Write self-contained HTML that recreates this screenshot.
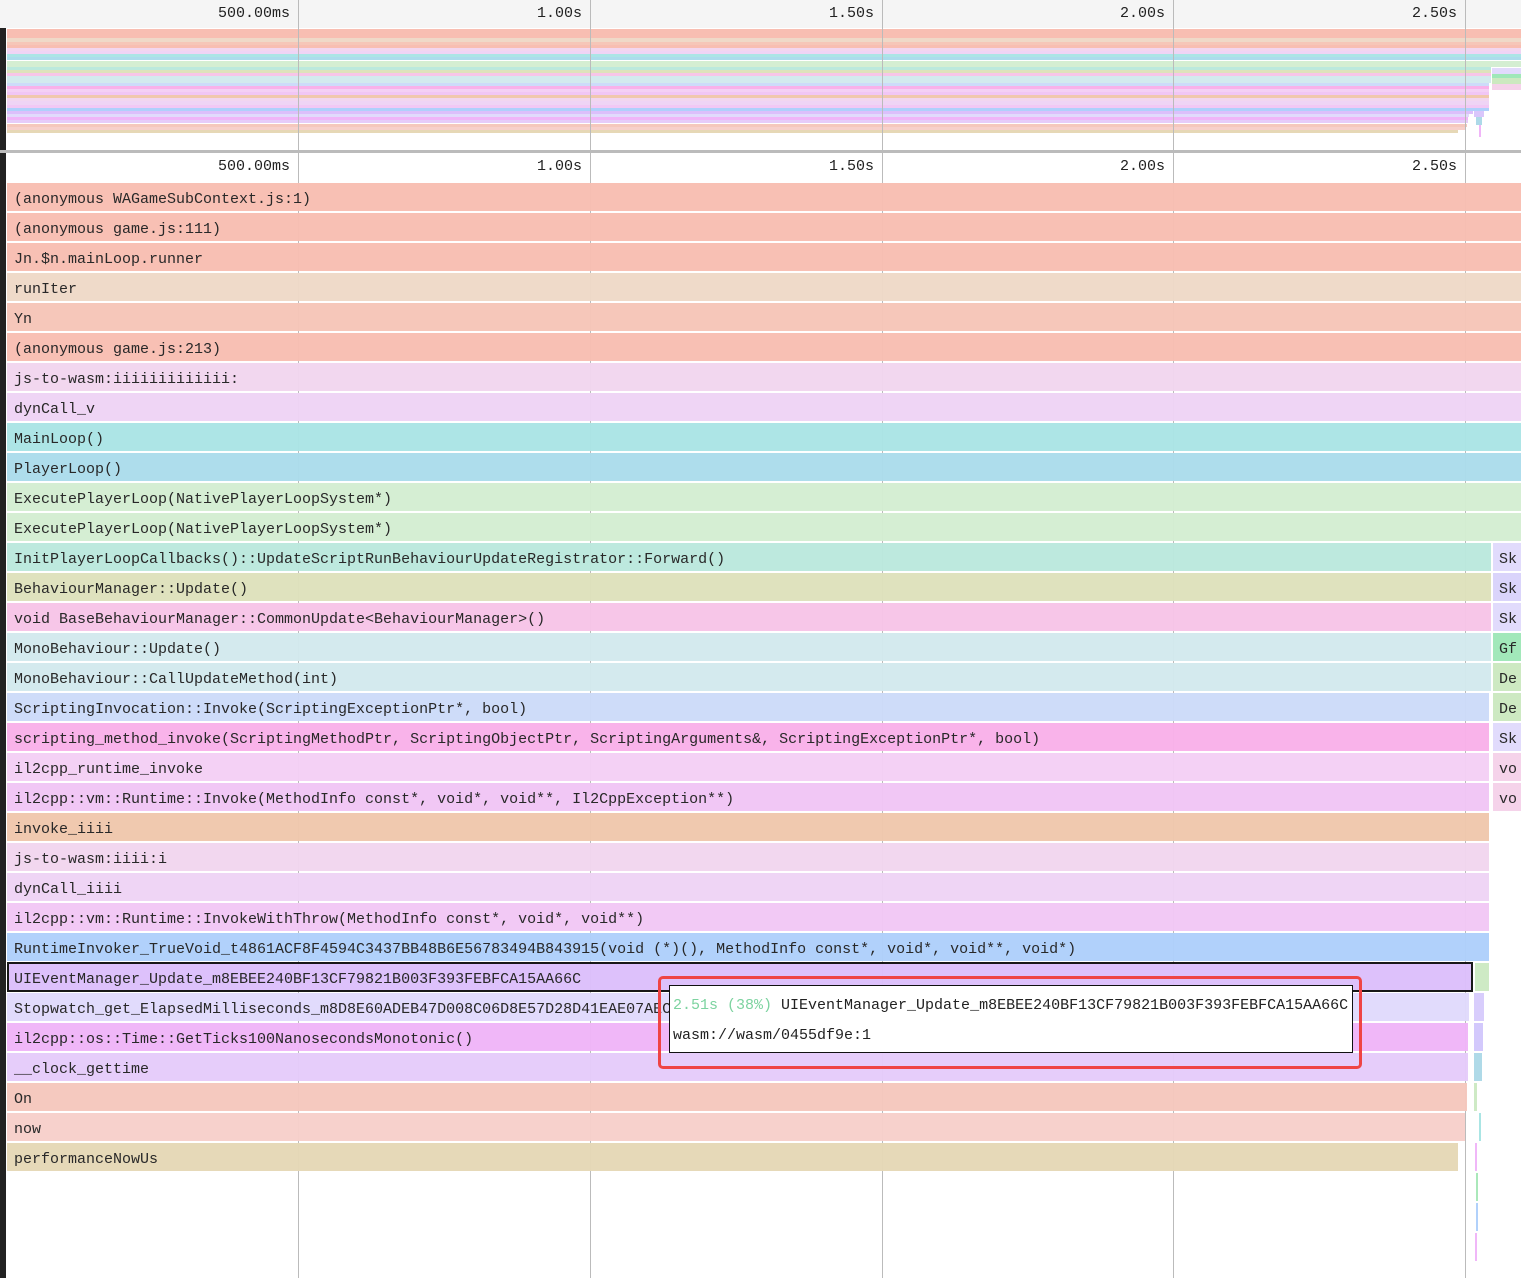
<!DOCTYPE html>
<html><head><meta charset="utf-8"><style>
*{margin:0;padding:0;box-sizing:border-box}
body{width:1521px;height:1278px;position:relative;overflow:hidden;background:#fff;font-family:"Liberation Mono",monospace;font-size:15px;color:#222}
div{position:absolute}
.r{height:28px;line-height:33px;padding-left:7px;white-space:nowrap;overflow:hidden}
.o{height:3.15px}
.g{width:1px;top:0;height:1278px;background:#bbb}
.lab{width:120px;text-align:right}
</style></head><body>
<div style="left:0;top:0;width:1521px;height:28px;background:#f5f5f5"></div>
<div style="left:0;top:28px;width:6px;height:1250px;background:#222"></div>
<div style="left:0;top:150px;width:1521px;height:3px;background:#bbb"></div>

<!-- overview -->
<div style="left:7px;top:29px;width:1514px;height:104px">
<div class="o" style="top:0;width:1514px;height:9.45px;background:#f8beb2"></div>
<div class="o" style="top:9.45px;width:1514px;background:#efd9c8"></div>
<div class="o" style="top:12.6px;width:1514px;background:#f6c6b8"></div>
<div class="o" style="top:15.75px;width:1514px;background:#f8beb2"></div>
<div class="o" style="top:18.9px;width:1514px;background:#f2d6ef"></div>
<div class="o" style="top:22.05px;width:1514px;background:#efd4f5"></div>
<div class="o" style="top:25.2px;width:1514px;background:#abe5e6"></div>
<div class="o" style="top:28.35px;width:1514px;background:#acdcec"></div>
<div class="o" style="top:31.5px;width:1514px;height:6.3px;background:#d4eed2"></div>
<div class="o" style="top:37.8px;width:1484px;background:#bbe9dd"></div>
<div class="o" style="top:40.95px;width:1484px;background:#dee2bc"></div>
<div class="o" style="top:44.1px;width:1484px;background:#f7c5e8"></div>
<div class="o" style="top:47.25px;width:1484px;height:6.3px;background:#d3eaee"></div>
<div class="o" style="top:53.55px;width:1482px;background:#cddbf9"></div>
<div class="o" style="top:56.7px;width:1482px;background:#f9b1ea"></div>
<div class="o" style="top:59.85px;width:1482px;background:#f4d0f5"></div>
<div class="o" style="top:63px;width:1482px;background:#f1c6f5"></div>
<div class="o" style="top:66.15px;width:1482px;background:#f0c8ad"></div>
<div class="o" style="top:69.3px;width:1482px;background:#f2d6ef"></div>
<div class="o" style="top:72.45px;width:1482px;background:#efd4f5"></div>
<div class="o" style="top:75.6px;width:1482px;background:#f2c8f5"></div>
<div class="o" style="top:78.75px;width:1482px;background:#afd0fb"></div>
<div class="o" style="top:81.9px;width:1466px;background:#dcbffb"></div>
<div class="o" style="top:85.05px;width:1462px;background:#e1dafc"></div>
<div class="o" style="top:88.2px;width:1461px;background:#f0b5f8"></div>
<div class="o" style="top:91.35px;width:1461px;background:#e6ccfa"></div>
<div class="o" style="top:94.5px;width:1460px;background:#f5c8bd"></div>
<div class="o" style="top:97.65px;width:1458px;background:#f7d0cb"></div>
<div class="o" style="top:100.8px;width:1451px;background:#e6d8b6"></div>
<div style="left:1485px;top:39px;width:29px;height:6px;background:#e1dafc"></div>
<div style="left:1485px;top:45px;width:29px;height:4px;background:#9fe8b8"></div>
<div style="left:1485px;top:49px;width:29px;height:6px;background:#cce9c0"></div>
<div style="left:1485px;top:55px;width:29px;height:6px;background:#f5d2ea"></div>
<div style="left:1467px;top:82px;width:10px;height:6px;background:#d9c6fb"></div>
<div style="left:1469px;top:88px;width:6px;height:8px;background:#add9e8"></div>
<div style="left:1472px;top:96px;width:2px;height:12px;background:#f0b5f8"></div>
</div>

<!-- grid lines -->
<div class="g" style="left:298px"></div>
<div class="g" style="left:590px"></div>
<div class="g" style="left:882px"></div>
<div class="g" style="left:1173px"></div>
<div class="g" style="left:1465px"></div>

<!-- ruler labels -->
<div class="lab" style="left:170px;top:5px">500.00ms</div>
<div class="lab" style="left:462px;top:5px">1.00s</div>
<div class="lab" style="left:754px;top:5px">1.50s</div>
<div class="lab" style="left:1045px;top:5px">2.00s</div>
<div class="lab" style="left:1337px;top:5px">2.50s</div>
<div class="lab" style="left:170px;top:158px">500.00ms</div>
<div class="lab" style="left:462px;top:158px">1.00s</div>
<div class="lab" style="left:754px;top:158px">1.50s</div>
<div class="lab" style="left:1045px;top:158px">2.00s</div>
<div class="lab" style="left:1337px;top:158px">2.50s</div>

<!-- flame rows -->
<div style="left:7px;top:183px;width:1514px;height:1000px;opacity:0.97">
<div class="r" style="top:0;width:1514px;background:#f8beb2">(anonymous WAGameSubContext.js:1)</div>
<div class="r" style="top:30px;width:1514px;background:#f8beb2">(anonymous game.js:111)</div>
<div class="r" style="top:60px;width:1514px;background:#f8beb2">Jn.$n.mainLoop.runner</div>
<div class="r" style="top:90px;width:1514px;background:#efd9c8">runIter</div>
<div class="r" style="top:120px;width:1514px;background:#f6c6b8">Yn</div>
<div class="r" style="top:150px;width:1514px;background:#f8beb2">(anonymous game.js:213)</div>
<div class="r" style="top:180px;width:1514px;background:#f2d6ef">js-to-wasm:iiiiiiiiiiiii:</div>
<div class="r" style="top:210px;width:1514px;background:#efd4f5">dynCall_v</div>
<div class="r" style="top:240px;width:1514px;background:#abe5e6">MainLoop()</div>
<div class="r" style="top:270px;width:1514px;background:#acdcec">PlayerLoop()</div>
<div class="r" style="top:300px;width:1514px;background:#d4eed2">ExecutePlayerLoop(NativePlayerLoopSystem*)</div>
<div class="r" style="top:330px;width:1514px;background:#d4eed2">ExecutePlayerLoop(NativePlayerLoopSystem*)</div>
<div class="r" style="top:360px;width:1484px;background:#bbe9dd">InitPlayerLoopCallbacks()::UpdateScriptRunBehaviourUpdateRegistrator::Forward()</div>
<div class="r" style="top:390px;width:1484px;background:#dee2bc">BehaviourManager::Update()</div>
<div class="r" style="top:420px;width:1484px;background:#f7c5e8">void BaseBehaviourManager::CommonUpdate&lt;BehaviourManager&gt;()</div>
<div class="r" style="top:450px;width:1484px;background:#d3eaee">MonoBehaviour::Update()</div>
<div class="r" style="top:480px;width:1484px;background:#d3eaee">MonoBehaviour::CallUpdateMethod(int)</div>
<div class="r" style="top:510px;width:1482px;background:#cddbf9">ScriptingInvocation::Invoke(ScriptingExceptionPtr*, bool)</div>
<div class="r" style="top:540px;width:1482px;background:#f9b1ea">scripting_method_invoke(ScriptingMethodPtr, ScriptingObjectPtr, ScriptingArguments&amp;, ScriptingExceptionPtr*, bool)</div>
<div class="r" style="top:570px;width:1482px;background:#f4d0f5">il2cpp_runtime_invoke</div>
<div class="r" style="top:600px;width:1482px;background:#f1c6f5">il2cpp::vm::Runtime::Invoke(MethodInfo const*, void*, void**, Il2CppException**)</div>
<div class="r" style="top:630px;width:1482px;background:#f0c8ad">invoke_iiii</div>
<div class="r" style="top:660px;width:1482px;background:#f2d6ef">js-to-wasm:iiii:i</div>
<div class="r" style="top:690px;width:1482px;background:#efd4f5">dynCall_iiii</div>
<div class="r" style="top:720px;width:1482px;background:#f2c8f5">il2cpp::vm::Runtime::InvokeWithThrow(MethodInfo const*, void*, void**)</div>
<div class="r" style="top:750px;width:1482px;background:#afd0fb">RuntimeInvoker_TrueVoid_t4861ACF8F4594C3437BB48B6E56783494B843915(void (*)(), MethodInfo const*, void*, void**, void*)</div>
<div class="r" style="width:1466px;background:#dcbffb;border:2px solid #111;line-height:31px;padding-left:5px;height:30px;top:779px">UIEventManager_Update_m8EBEE240BF13CF79821B003F393FEBFCA15AA66C</div>
<div class="r" style="top:810px;width:1462px;background:#e1dafc">Stopwatch_get_ElapsedMilliseconds_m8D8E60ADEB47D008C06D8E57D28D41EAE07AEC</div>
<div class="r" style="top:840px;width:1461px;background:#f0b5f8">il2cpp::os::Time::GetTicks100NanosecondsMonotonic()</div>
<div class="r" style="top:870px;width:1461px;background:#e6ccfa">__clock_gettime</div>
<div class="r" style="top:900px;width:1460px;background:#f5c8bd">On</div>
<div class="r" style="top:930px;width:1458px;background:#f7d0cb">now</div>
<div class="r" style="top:960px;width:1451px;background:#e6d8b6">performanceNowUs</div>

<!-- right side boxes -->
<div class="r" style="left:1486px;top:360px;width:28px;background:#e1dafc;padding-left:6px">Sk</div>
<div class="r" style="left:1486px;top:390px;width:28px;background:#d9d3fb;padding-left:6px">Sk</div>
<div class="r" style="left:1486px;top:420px;width:28px;background:#e1dafc;padding-left:6px">Sk</div>
<div class="r" style="left:1486px;top:450px;width:28px;background:#9fe8b8;padding-left:6px">Gf</div>
<div class="r" style="left:1486px;top:480px;width:28px;background:#cce9c0;padding-left:6px">De</div>
<div class="r" style="left:1486px;top:510px;width:28px;background:#cce9c0;padding-left:6px">De</div>
<div class="r" style="left:1486px;top:540px;width:28px;background:#e1dafc;padding-left:6px">Sk</div>
<div class="r" style="left:1486px;top:570px;width:28px;background:#f5d2ea;padding-left:6px">vo</div>
<div class="r" style="left:1486px;top:600px;width:28px;background:#f5d2ea;padding-left:6px">vo</div>
<div style="left:1468px;top:780px;width:14px;height:28px;background:#cdeac4"></div>
<div style="left:1467px;top:810px;width:10px;height:28px;background:#d7ccfc"></div>
<div style="left:1467px;top:840px;width:9px;height:28px;background:#d2c8fc"></div>
<div style="left:1467px;top:870px;width:8px;height:28px;background:#add9e8"></div>
<div style="left:1467px;top:900px;width:3px;height:28px;background:#cdeac4"></div>
<div style="left:1472px;top:930px;width:2px;height:28px;background:#a8e5e4"></div>
<div style="left:1468px;top:960px;width:2px;height:28px;background:#f0b5f8"></div>
<div style="left:1469px;top:990px;width:2px;height:28px;background:#a8e8b8"></div>
<div style="left:1469px;top:1020px;width:2px;height:28px;background:#afd0fb"></div>
<div style="left:1468px;top:1050px;width:2px;height:28px;background:#f0b5f8"></div>
</div>

<!-- tooltip -->
<div style="left:658px;top:976px;width:704px;height:93px;border:3.5px solid #ef4444;border-radius:5px"></div>
<div style="left:669px;top:985px;width:684px;height:68px;background:#fff;border:1px solid #111;white-space:nowrap">
<div style="left:3px;top:11px"><span style="color:#7dd3a0">2.51s (38%)</span> UIEventManager_Update_m8EBEE240BF13CF79821B003F393FEBFCA15AA66C</div>
<div style="left:3px;top:41px">wasm://wasm/0455df9e:1</div>
</div>
</body></html>
